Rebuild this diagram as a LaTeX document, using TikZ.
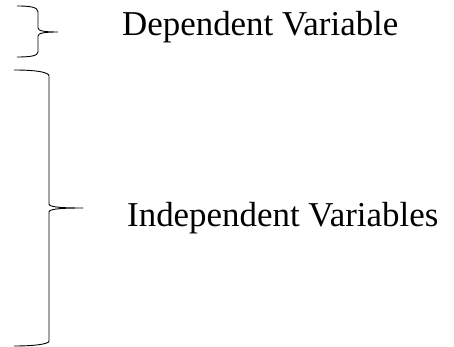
\documentclass[tikz,border=0pt]{standalone}
\usepackage{fontspec}
\setmainfont{Liberation Serif}
\begin{document}
\begin{tikzpicture}[x=1pt,y=-1pt,
  bracestyle/.style={draw=black,line width=0.9pt,line join=round},
  label/.style={anchor=base west,inner sep=0pt,font=\fontsize{34.9}{40}\selectfont}]
\useasboundingbox (0,0) rectangle (454,347);
% small brace
\path[bracestyle] (17,6) .. controls (30,6) and (38,7) .. (38,12) -- (38,28)
  .. controls (38,31) and (45,32) .. (58,32)
  .. controls (45,32) and (38,33) .. (38,36) -- (38,52)
  .. controls (38,56) and (30,57) .. (17,57);
% large brace
\path[bracestyle] (14,70) .. controls (35,70) and (49,72) .. (49,76) -- (49,204)
  .. controls (49,207) and (60,208) .. (83,208)
  .. controls (60,208) and (49,209) .. (49,212) -- (49,341)
  .. controls (49,344) and (35,346) .. (14,346);
\node[label] (dep) at (122,36) {Dependent Variable};
\node[label] (indep) at (127,226) {Independent Variables};
\end{tikzpicture}
\end{document}
